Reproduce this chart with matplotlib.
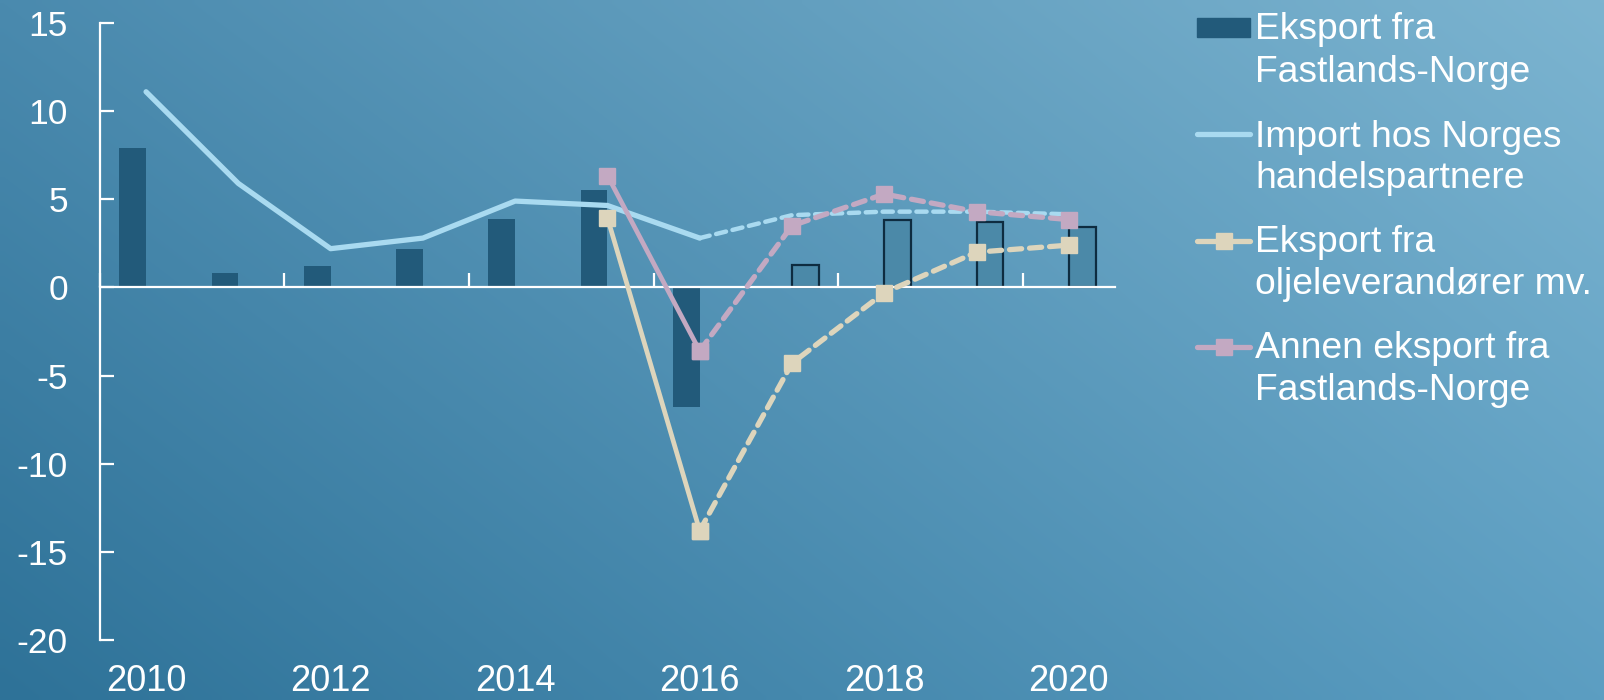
import numpy as np
import matplotlib
matplotlib.use("Agg")
import matplotlib.pyplot as plt
from matplotlib.lines import Line2D
from matplotlib.patches import Rectangle

plt.rcParams["font.family"] = ["Liberation Sans", "DejaVu Sans"]
plt.rcParams["axes.unicode_minus"] = False

years = list(range(2010, 2021))

# Eksport fra Fastlands-Norge: history (filled) and projection (outlined)
export_hist = [7.9, 0.8, 1.2, 2.2, 3.9, 5.55, -6.8, None, None, None, None]
export_proj = [None, None, None, None, None, None, None, 1.3, 3.8, 3.7, 3.45]

# Import hos Norges handelspartnere
import_hist = [11.1, 5.9, 2.2, 2.8, 4.9, 4.65, 2.8]
import_proj = [2.8, 4.1, 4.3, 4.3, 4.15]

# Eksport fra oljeleverandører mv.
olje_hist = [3.95, -13.8]
olje_proj = [-13.8, -4.3, -0.3, 2.0, 2.4]

# Annen eksport fra Fastlands-Norge
annen_hist = [6.35, -3.6]
annen_proj = [-3.6, 3.5, 5.3, 4.3, 3.85]

legend_labels = [
    ["Eksport fra", "Fastlands-Norge"],
    ["Import hos Norges", "handelspartnere"],
    ["Eksport fra", "oljeleverandører mv."],
    ["Annen eksport fra", "Fastlands-Norge"],
]

BAR = "#225a7a"
BAR_PROJ = "#4b89a8"
BAR_EDGE = "#0e2c40"
IMPORT = "#a9daf0"
OLJE = "#ddd5bc"
ANNEN = "#c3a9c2"
FS_TICK = 25.5
FS_XLAB = 26
FS_LEG = 26.8

fig = plt.figure(figsize=(16.04, 7.0), dpi=100)

# gradient background
bg = fig.add_axes([0, 0, 1, 1], zorder=-10)
bg.set_axis_off()
c_bl = np.array([46, 114, 152]) / 255
c_tl = np.array([74, 138, 174]) / 255
c_br = np.array([92, 158, 194]) / 255
c_tr = np.array([124, 180, 208]) / 255
u = np.linspace(0, 1, 200)[None, :, None]
v = np.linspace(1, 0, 100)[:, None, None]
grad = (c_bl * (1 - u) * (1 - v) + c_br * u * (1 - v)
        + c_tl * (1 - u) * v + c_tr * u * v)
bg.imshow(grad, aspect="auto", extent=[0, 1, 0, 1], interpolation="bilinear")
bg.set_xlim(0, 1)
bg.set_ylim(0, 1)

ax = fig.add_axes([0.0623, 0.0857, 0.6328, 0.8814])
ax.patch.set_alpha(0)

idx = np.arange(len(years))
w = 0.29

hist_x = [i for i, v in enumerate(export_hist) if v is not None]
hist_v = [v for v in export_hist if v is not None]
ax.bar(np.array(hist_x) - w / 2, hist_v, width=w, color=BAR, zorder=2)

proj_x = [i for i, v in enumerate(export_proj) if v is not None]
proj_v = [v for v in export_proj if v is not None]
ax.bar(np.array(proj_x) + w / 2, proj_v, width=w, color=BAR_PROJ,
       edgecolor=BAR_EDGE, linewidth=1.6, zorder=2)

dash = (2.3, 1.5)
ax.plot(idx[:7], import_hist, color=IMPORT, lw=3.8, zorder=3,
        solid_capstyle="round", solid_joinstyle="round")
ax.plot(idx[6:], import_proj, color=IMPORT, lw=3.2, zorder=3,
        dashes=dash, dash_capstyle="round")

ax.plot(idx[5:7], olje_hist, color=OLJE, lw=3.4, marker="s", ms=11,
        mec=OLJE, zorder=4)
ax.plot(idx[6:], olje_proj, color=OLJE, lw=3.8, marker="s", ms=11,
        mec=OLJE, dashes=dash, dash_capstyle="round", zorder=4)

ax.plot(idx[5:7], annen_hist, color=ANNEN, lw=3.4, marker="s", ms=11,
        mec=ANNEN, zorder=5)
ax.plot(idx[6:], annen_proj, color=ANNEN, lw=3.8, marker="s", ms=11,
        mec=ANNEN, dashes=dash, dash_capstyle="round", zorder=5)

ax.set_xlim(-0.5, len(years) - 0.5)
ax.set_ylim(-20, 15)
ax.set_yticks(range(-20, 16, 5))

for s in ["top", "right"]:
    ax.spines[s].set_visible(False)
ax.spines["left"].set_color("white")
ax.spines["left"].set_linewidth(1.6)
ax.spines["bottom"].set_position(("data", 0))
ax.spines["bottom"].set_color("white")
ax.spines["bottom"].set_linewidth(1.6)

ax.set_xticks(np.arange(-0.5, len(years), 2))
ax.set_xticklabels([])
ax.tick_params(axis="x", direction="in", length=10, width=1.6, color="white")
ax.tick_params(axis="y", direction="in", length=10, width=1.6, color="white",
               labelcolor="white", labelsize=FS_TICK, pad=23)

# year labels sit just inside the bottom edge of the figure
for i, yr in enumerate(years):
    if i % 2 == 0:
        ax.text(i, -0.082, str(yr), transform=ax.get_xaxis_transform(),
                ha="center", va="baseline", color="white", fontsize=FS_XLAB)

# legend drawn manually so the key sits on the first text line
handles = [
    dict(kind="bar"),
    dict(kind="line", color=IMPORT, marker=None),
    dict(kind="line", color=OLJE, marker="s"),
    dict(kind="line", color=ANNEN, marker="s"),
]
x0, x1 = 1197 / 1604, 1250 / 1604
tx = 1255 / 1604
key_y = [27, 134, 241, 347]
base_y = [(39, 82), (147, 188), (252, 294), (358, 400)]
for h, lab, ky, by in zip(handles, legend_labels, key_y, base_y):
    yf = 1 - ky / 700
    if h["kind"] == "bar":
        fig.add_artist(Rectangle((x0, yf - 9.5 / 700), x1 - x0, 19 / 700,
                                 transform=fig.transFigure, color=BAR))
    else:
        fig.add_artist(Line2D([x0, x1], [yf, yf], transform=fig.transFigure,
                              color=h["color"], lw=3.8, solid_capstyle="round"))
        if h["marker"]:
            fig.add_artist(Line2D([(x0 + x1) / 2], [yf],
                                  transform=fig.transFigure, color=h["color"],
                                  marker="s", ms=11, mec=h["color"]))
    for line, b in zip(lab, by):
        fig.text(tx, 1 - b / 700, line, ha="left", va="baseline",
                 color="white", fontsize=FS_LEG)

fig.savefig("out.png", dpi=100)
